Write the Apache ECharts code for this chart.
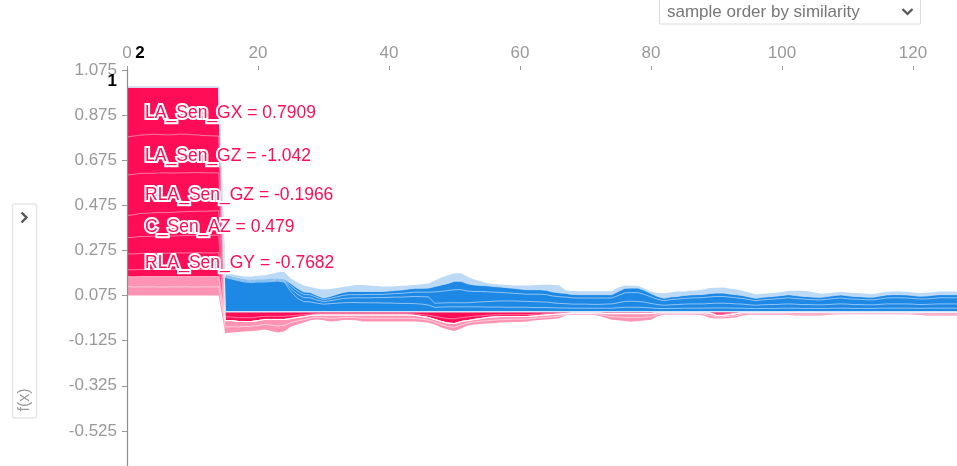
<!DOCTYPE html>
<html>
<head>
<meta charset="utf-8">
<script src="https://cdn.jsdelivr.net/npm/echarts@6/dist/echarts.min.js"></script>
<style>html,body{margin:0;padding:0;background:#fff;}#c{width:957px;height:466px;}</style>
</head>
<body>
<div id="c"></div>
<script>
// ---------- DATA ----------
const xTicks = [0, 20, 40, 60, 80, 100, 120];
const yTicks = [-0.525, -0.325, -0.125, 0.075, 0.275, 0.475, 0.675, 0.875, 1.075];
const hoverSample = 2;
const labelFeatures = ['LA_Sen_GX', 'LA_Sen_GZ', 'RLA_Sen_GZ', 'C_Sen_AZ', 'RLA_Sen_GY'];
const labelValues = ['0.7909', '-1.042', '-0.1966', '0.479', '-0.7682'];

// model output f(x) per sample
const sampleOutput = [
1,1,1,1,1,1,1,1,1,1,1,1,1,1,1,
.003,.003,.003,.003,.003,.003,.003,.003,.003,.003,
.003,.003,.003,.003,.003,.003,.003,.003,.003,.003,
.003,.003,.003,.003,.003,.003,.003,.003,.003,.003,
.003,.003,.003,.003,.003,.003,.003,.003,.003,.003,
.003,.003,.003,.003,.003,.003,.003,.003,.003,.003,
.003,.003,.003,.003,.003,.003,.003,.003,.003,.003,
.003,.003,.003,.003,.003,.003,.003,.003,.003,.003,
.003,.003,.003,.003,.003,.003,.003,.003,.003,.003,
.003,.003,.003,.003,.003,.003,.003,.003,.003,.003,
.003,.003,.003,.003,.003,.003,.003,.003,.003,.003,
.003,.003,.003,.003,.003,.003,.003,.003,.003,.003,
.003,.003,.003];

// positive (red) contributions
const redLAGX = [
.222,.218,.214,.212,.210,.211,.213,.212,.209,.210,.212,.214,.216,.217,.218,
.023,.023,.026,.026,.026,.023,.020,.020,.020,.020,
.018,.015,.013,.010,.008,.008,.008,.008,.008,.008,
.008,.008,.008,.008,.008,.008,.008,.008,.008,.010,
.013,.015,.020,.026,.030,.031,.026,.023,.020,.018,
.015,.014,.013,.013,.013,.013,.013,.011,.010,.008,
.007,.006,.005,.003,.003,.003,.003,.003,.005,.005,
.005,.005,.005,.005,.005,.005,.002,.002,.002,.002,
.002,.002,.002,.002,.004,.010,.010,.007,.005,.002,
.002,.002,.002,.002,.002,.002,.002,.002,.002,.002,
.002,.002,.002,.002,.002,.002,.002,.002,.002,.002,
.002,.002,.002,.002,.002,.002,.002,.002,.002,.002,
.002,.002,.002];
const redLAGZ = [
.168,.170,.169,.171,.173,.170,.168,.170,.172,.171,.168,.166,.165,.164,.163,
.016,.016,.017,.017,.017,.016,.014,.014,.014,.014,
.012,.010,.008,.006,.006,.006,.006,.006,.006,.006,
.006,.006,.006,.006,.006,.006,.006,.006,.006,.006,
.008,.010,.014,.017,.020,.021,.017,.016,.014,.012,
.010,.009,.008,.008,.008,.008,.008,.008,.006,.006,
.005,.004,.003,.002,.002,.002,.002,.002,.003,.003,
.003,.003,.003,.003,.003,.003,.002,.002,.002,.002,
.002,.002,.002,.002,.002,.006,.006,.005,.003,.001,
.001,.001,.001,.001,.001,.001,.001,.001,.001,.001,
.001,.001,.001,.001,.001,.001,.001,.001,.001,.001,
.001,.001,.001,.001,.001,.001,.001,.001,.001,.001,
.001,.001,.001];
const redRLAGZ = [
.180,.179,.178,.177,.175,.176,.176,.174,.173,.172,.172,.171,.170,.169,.168,
0,0,0,0,0,0,0,0,0,0, 0,0,0,0,0,0,0,0,0,0, 0,0,0,0,0,0,0,0,0,0,
0,0,0,0,0,0,0,0,0,0, 0,0,0,0,0,0,0,0,0,0, 0,0,0,0,0,0,0,0,0,0,
0,0,0,0,0,0,0,0,0,0, 0,0,0,0,0,0,0,0,0,0, 0,0,0,0,0,0,0,0,0,0,
0,0,0,0,0,0,0,0,0,0, 0,0,0,0,0,0,0,0,0,0, 0,0,0];
const redCAZ = [
.098,.100,.102,.103,.104,.104,.105,.105,.106,.106,.107,.107,.107,.108,.108,
0,0,0,0,0,0,0,0,0,0, 0,0,0,0,0,0,0,0,0,0, 0,0,0,0,0,0,0,0,0,0,
0,0,0,0,0,0,0,0,0,0, 0,0,0,0,0,0,0,0,0,0, 0,0,0,0,0,0,0,0,0,0,
0,0,0,0,0,0,0,0,0,0, 0,0,0,0,0,0,0,0,0,0, 0,0,0,0,0,0,0,0,0,0,
0,0,0,0,0,0,0,0,0,0, 0,0,0,0,0,0,0,0,0,0, 0,0,0];
const redOther1 = [
.072,.074,.075,.075,.076,.076,.075,.076,.076,.077,.077,.077,.078,.078,.078,
0,0,0,0,0,0,0,0,0,0, 0,0,0,0,0,0,0,0,0,0, 0,0,0,0,0,0,0,0,0,0,
0,0,0,0,0,0,0,0,0,0, 0,0,0,0,0,0,0,0,0,0, 0,0,0,0,0,0,0,0,0,0,
0,0,0,0,0,0,0,0,0,0, 0,0,0,0,0,0,0,0,0,0, 0,0,0,0,0,0,0,0,0,0,
0,0,0,0,0,0,0,0,0,0, 0,0,0,0,0,0,0,0,0,0, 0,0,0];
const redRLAGY = [
.070,.070,.071,.071,.071,.072,.072,.072,.073,.073,.073,.074,.073,.073,.074,
0,0,0,0,0,0,0,0,0,0, 0,0,0,0,0,0,0,0,0,0, 0,0,0,0,0,0,0,0,0,0,
0,0,0,0,0,0,0,0,0,0, 0,0,0,0,0,0,0,0,0,0, 0,0,0,0,0,0,0,0,0,0,
0,0,0,0,0,0,0,0,0,0, 0,0,0,0,0,0,0,0,0,0, 0,0,0,0,0,0,0,0,0,0,
0,0,0,0,0,0,0,0,0,0, 0,0,0,0,0,0,0,0,0,0, 0,0,0];
const redOther2 = [
.031,.031,.032,.032,.032,.032,.032,.032,.032,.032,.032,.032,.032,.032,.032,
0,0,0,0,0,0,0,0,0,0, 0,0,0,0,0,0,0,0,0,0, 0,0,0,0,0,0,0,0,0,0,
0,0,0,0,0,0,0,0,0,0, 0,0,0,0,0,0,0,0,0,0, 0,0,0,0,0,0,0,0,0,0,
0,0,0,0,0,0,0,0,0,0, 0,0,0,0,0,0,0,0,0,0, 0,0,0,0,0,0,0,0,0,0,
0,0,0,0,0,0,0,0,0,0, 0,0,0,0,0,0,0,0,0,0, 0,0,0];
const redPinkB = [
.044,.045,.045,.046,.045,.046,.046,.045,.046,.045,.046,.046,.045,.046,.045,
.028,.027,.024,.022,.021,.022,.022,.025,.029,.026,
.018,.016,.014,.011,.010,.012,.015,.014,.011,.011,
.012,.015,.015,.015,.015,.015,.015,.015,.015,.014,
.012,.012,.011,.014,.015,.017,.016,.011,.011,.012,
.014,.014,.014,.013,.012,.012,.011,.010,.010,.010,
.010,.010,.004,.004,.004,.004,.004,.007,.009,.014,
.015,.017,.018,.017,.016,.014,.008,.005,.005,.005,
.005,.005,.005,.006,.011,.007,.007,.008,.009,.007,
.005,.005,.005,.005,.005,.005,.006,.007,.007,.007,
.007,.007,.006,.005,.004,.004,.004,.004,.004,.004,
.004,.004,.004,.004,.004,.005,.006,.007,.007,.007,
.007,.007,.007];
const redPinkA = [
.040,.038,.039,.038,.039,.038,.038,.039,.038,.039,.038,.038,.039,.038,.039,
.028,.026,.023,.022,.021,.022,.022,.026,.029,.027,
.018,.015,.013,.011,.010,.012,.014,.013,.011,.011,
.012,.014,.014,.014,.014,.014,.014,.014,.014,.013,
.012,.012,.011,.013,.014,.016,.015,.011,.011,.012,
.013,.014,.013,.012,.012,.012,.011,.010,.010,.010,
.010,.009,.003,.004,.004,.004,.004,.006,.009,.013,
.014,.016,.018,.016,.015,.013,.008,.004,.004,.004,
.004,.004,.004,.006,.011,.007,.007,.007,.008,.006,
.005,.005,.005,.005,.005,.005,.005,.006,.006,.006,
.006,.006,.005,.004,.004,.004,.004,.004,.004,.004,
.004,.004,.004,.004,.004,.004,.005,.006,.006,.006,
.006,.006,.006];

// negative (blue) contributions, magnitudes
const blue1 = [
0,0,0,0,0,0,0,0,0,0,0,0,0,0,0,
.152,.145,.138,.132,.130,.132,.132,.134,.136,.132,
.090,.060,.045,.044,.038,.034,.036,.038,.040,.041,
.041,.040,.040,.040,.039,.039,.038,.037,.037,.036,
.034,.030,.020,.021,.022,.022,.022,.022,.022,.022,
.021,.021,.021,.020,.020,.020,.020,.019,.019,.019,
.018,.017,.017,.016,.016,.016,.016,.016,.016,.016,
.018,.020,.020,.020,.019,.017,.015,.014,.015,.015,
.016,.016,.016,.016,.017,.017,.017,.017,.016,.016,
.015,.014,.015,.015,.015,.016,.016,.016,.015,.015,
.015,.015,.015,.016,.016,.016,.015,.015,.015,.015,
.016,.016,.016,.016,.016,.016,.015,.016,.016,.016,
.016,.016,.016];
const blue2 = [
0,0,0,0,0,0,0,0,0,0,0,0,0,0,0,
.004,.004,.004,.004,.004,.004,.004,.004,.004,.004,
.014,.018,.018,.018,.014,.011,.013,.016,.019,.020,
.021,.022,.022,.023,.024,.025,.027,.028,.030,.032,
.033,.036,.018,.018,.018,.018,.018,.018,.020,.022,
.024,.026,.027,.028,.028,.027,.026,.026,.025,.024,
.022,.020,.019,.018,.018,.018,.017,.017,.018,.019,
.022,.026,.027,.026,.024,.020,.017,.015,.016,.017,
.018,.019,.019,.019,.020,.021,.021,.020,.019,.018,
.016,.015,.016,.017,.017,.018,.019,.018,.017,.017,
.016,.016,.017,.018,.019,.018,.017,.017,.016,.016,
.017,.019,.019,.019,.019,.018,.017,.017,.018,.019,
.019,.019,.019];
const blue3 = [
0,0,0,0,0,0,0,0,0,0,0,0,0,0,0,
.004,.004,.004,.004,.004,.004,.004,.004,.004,.004,
.012,.014,.014,.013,.011,.009,.010,.012,.014,.015,
.014,.014,.015,.014,.014,.015,.016,.017,.018,.019,
.020,.021,.050,.052,.054,.058,.058,.052,.048,.046,
.044,.040,.038,.036,.034,.033,.032,.033,.034,.033,
.030,.030,.029,.028,.027,.027,.028,.028,.027,.026,
.032,.038,.038,.039,.034,.029,.023,.020,.023,.024,
.025,.026,.027,.028,.029,.030,.030,.028,.027,.025,
.023,.020,.022,.023,.025,.025,.027,.025,.025,.023,
.022,.022,.024,.025,.026,.024,.024,.023,.022,.022,
.024,.026,.027,.027,.026,.025,.025,.024,.025,.027,
.027,.027,.027];
const blue4 = [
0,0,0,0,0,0,0,0,0,0,0,0,0,0,0,
.004,.004,.004,.004,.004,.004,.004,.004,.004,.004,
.010,.012,.011,.011,.009,.007,.009,.011,.013,.014,
.014,.014,.013,.013,.013,.013,.014,.015,.016,.017,
.017,.018,.024,.028,.032,.037,.037,.032,.029,.027,
.026,.025,.024,.023,.022,.021,.020,.020,.020,.019,
.018,.017,.016,.015,.015,.015,.015,.015,.015,.015,
.018,.020,.020,.020,.018,.015,.013,.011,.012,.012,
.013,.014,.014,.014,.015,.015,.015,.014,.014,.013,
.012,.011,.011,.012,.012,.013,.014,.013,.012,.012,
.012,.011,.012,.013,.014,.013,.012,.012,.012,.012,
.013,.014,.014,.014,.014,.013,.012,.013,.014,.014,
.014,.014,.014];
const blueLight = [
.003,.003,.003,.003,.003,.003,.003,.003,.003,.003,.003,.003,.003,.003,.003,
.011,.009,.011,.013,.015,.016,.018,.022,.027,.033,
.022,.027,.029,.024,.031,.038,.033,.029,.024,.024,
.029,.029,.027,.024,.022,.020,.018,.018,.016,.016,
.018,.021,.027,.033,.036,.036,.036,.031,.024,.018,
.012,.011,.011,.012,.013,.016,.019,.020,.022,.025,
.032,.033,.013,.015,.015,.015,.015,.015,.015,.015,
.018,.013,.010,.010,.008,.009,.015,.022,.020,.022,
.018,.018,.018,.022,.024,.024,.025,.024,.024,.020,
.020,.018,.016,.015,.015,.016,.017,.021,.024,.024,
.020,.016,.014,.014,.014,.014,.015,.015,.015,.014,
.014,.014,.014,.014,.014,.014,.014,.014,.014,.014,
.014,.014,.014];

// ---------- CHART ----------
const RED = '#ff0d57', PINK = '#ff93b4', BLUE = '#1e88e5', LIGHTBLUE = '#bcdaf6';
const FONT = '"Liberation Sans", Arial, sans-serif';

// red layers from the bottom (farthest from f) up to f
const redLayers = [
  {name: 'pinkA', data: redPinkA, color: PINK, line: 'rgba(255,255,255,0.55)'},
  {name: 'pinkB', data: redPinkB, color: PINK, line: 'rgba(255,255,255,0.55)'},
  {name: 'other2', data: redOther2, color: RED, line: 'rgba(255,255,255,0.45)'},
  {name: 'RLA_Sen_GY', data: redRLAGY, color: RED, line: 'rgba(255,255,255,0.45)'},
  {name: 'other1', data: redOther1, color: RED, line: 'rgba(255,255,255,0.45)'},
  {name: 'C_Sen_AZ', data: redCAZ, color: RED, line: 'rgba(255,255,255,0.45)'},
  {name: 'RLA_Sen_GZ', data: redRLAGZ, color: RED, line: 'rgba(255,255,255,0.45)'},
  {name: 'LA_Sen_GZ', data: redLAGZ, color: RED, line: 'rgba(255,255,255,0.45)'},
  {name: 'LA_Sen_GX', data: redLAGX, color: RED, line: null}
];
// blue layers from f upwards
const blueLayers = [
  {name: 'b1', data: blue1, color: BLUE, line: 'rgba(255,255,255,0.5)'},
  {name: 'b2', data: blue2, color: BLUE, line: 'rgba(255,255,255,0.5)'},
  {name: 'b3', data: blue3, color: BLUE, line: 'rgba(255,255,255,0.5)'},
  {name: 'b4', data: blue4, color: BLUE, line: 'rgba(210,230,250,0.7)'},
  {name: 'bLight', data: blueLight, color: LIGHTBLUE, line: null}
];

const pairs = arr => arr.map((v, i) => [i, v]);
// cumulative boundaries
const redBase = sampleOutput.map((f, i) => f - redLayers.reduce((s, l) => s + l.data[i], 0));
const redTops = [];
{ let cur = redBase.slice(); redLayers.forEach(l => { cur = cur.map((c, i) => c + l.data[i]); redTops.push(cur); }); }
const blueTops = [];
{ let cur = sampleOutput.slice(); blueLayers.forEach(l => { cur = cur.map((c, i) => c + l.data[i]); blueTops.push(cur); }); }

function fillSeries(name, data, color) {
  return {name, type: 'line', data: pairs(data), symbol: 'none', showSymbol: false,
    lineStyle: {width: 0, opacity: 0}, areaStyle: {color, opacity: 1, origin: 'start'},
    emphasis: {disabled: true}, silent: true, animation: false, z: 2};
}
function lineSeries(name, data, color, width) {
  return {name, type: 'line', data: pairs(data), symbol: 'none', showSymbol: false,
    lineStyle: {color, width}, emphasis: {disabled: true}, silent: true, animation: false, z: 3};
}

const series = [];
// fills painted outermost first, each one covering the part below it
for (let k = blueLayers.length - 1; k >= 0; k--) series.push(fillSeries(blueLayers[k].name, blueTops[k], blueLayers[k].color));
for (let k = redLayers.length - 1; k >= 0; k--) series.push(fillSeries(redLayers[k].name, redTops[k], redLayers[k].color));
series.push(fillSeries('below', redBase, '#ffffff'));
// separator lines between features
redLayers.forEach((l, k) => { if (l.line) series.push(lineSeries(l.name + '_edge', redTops[k], l.line, 1)); });
blueLayers.forEach((l, k) => { if (l.line) series.push(lineSeries(l.name + '_edge', blueTops[k], l.line, 1)); });
series.push(lineSeries('f(x)', sampleOutput, '#d3e6f8', 1.5));

const chart = echarts.init(document.getElementById('c'), null, {renderer: 'canvas'});
const option = {
  animation: false,
  backgroundColor: '#fff',
  textStyle: {fontFamily: FONT},
  grid: {left: 127, right: -87, top: 70, bottom: -10, containLabel: false, outerBoundsMode: 'none'},
  xAxis: {
    type: 'value', position: 'top', min: xTicks[0], max: 140, interval: xTicks[1] - xTicks[0],
    axisLine: {show: false, onZero: false},
    axisTick: {show: true, length: 4, lineStyle: {color: '#999'}},
    axisLabel: {color: '#999', fontSize: 17, margin: 8, fontFamily: FONT},
    splitLine: {show: false}
  },
  yAxis: {
    type: 'value', z: 10, min: yTicks[0] - 0.2, max: yTicks[yTicks.length - 1], interval: yTicks[1] - yTicks[0],
    axisLine: {show: true, onZero: false, lineStyle: {color: '#8f8f8f', width: 1.2}},
    axisTick: {show: true, length: 5, lineStyle: {color: '#999'}},
    axisLabel: {color: '#999', fontSize: 17, margin: 10, fontFamily: FONT, formatter: v => Number(v).toFixed(3)},
    splitLine: {show: false}
  },
  series
};
chart.setOption(option);

// ---------- overlays (hover labels + UI widgets) ----------
const px = (x, y) => chart.convertToPixel({gridIndex: 0}, [x, y]);
const g = [];
const hx = px(hoverSample, 0)[0];
const axisTop = px(0, yTicks[yTicks.length - 1])[1];
const axisLeft = px(0, 0)[0];

// feature labels at the hovered sample (middle of each band)
labelFeatures.forEach((name, k) => {
  const idx = redLayers.findIndex(l => l.name === name);
  const top = redTops[idx][hoverSample];
  const mid = top - redLayers[idx].data[hoverSample] / 2;
  const y = px(hoverSample, mid)[1] + 2;
  g.push({type: 'text', x: hx + 5, y: y, z: 100, silent: true,
    style: {text: name + ' = ' + labelValues[k], fill: RED, stroke: '#fff', lineWidth: 4,
      font: '17.5px ' + FONT, align: 'left', verticalAlign: 'middle', textAlign: 'left', textVerticalAlign: 'middle'}});
});
// hovered x and f(x)
g.push({type: 'text', x: hx, y: axisTop - 8, z: 100, silent: true,
  style: {text: String(hoverSample), fill: '#000', font: 'bold 17px ' + FONT, align: 'center', verticalAlign: 'bottom', textAlign: 'center', textVerticalAlign: 'bottom'}});
g.push({type: 'text', x: axisLeft - 10, y: px(hoverSample, sampleOutput[hoverSample])[1] - 6, z: 100, silent: true,
  style: {text: String(Math.round(sampleOutput[hoverSample])), fill: '#000', font: 'bold 17px ' + FONT, align: 'right', verticalAlign: 'middle', textAlign: 'right', textVerticalAlign: 'middle'}});

// dropdown
g.push({type: 'rect', shape: {x: 659.5, y: -5, width: 261, height: 29}, z: 100, silent: true,
  style: {fill: '#fff', stroke: '#dcdcdc', lineWidth: 1}});
g.push({type: 'text', x: 667, y: 12, z: 101, silent: true,
  style: {text: 'sample order by similarity', fill: '#777', font: '17px ' + FONT, align: 'left', verticalAlign: 'middle', textAlign: 'left', textVerticalAlign: 'middle'}});
g.push({type: 'polyline', shape: {points: [[902.5, 9], [907.5, 14], [912.5, 9]]}, z: 101, silent: true,
  style: {stroke: '#555', lineWidth: 2.2, fill: null}});

// left collapsed panel
g.push({type: 'rect', shape: {x: 12.5, y: 204, width: 24, height: 214, r: 2}, z: 100, silent: true,
  style: {fill: 'none', stroke: '#e6e6e6', lineWidth: 1.5}});
g.push({type: 'polyline', shape: {points: [[21.5, 212.5], [26.5, 217.5], [21.5, 222.5]]}, z: 101, silent: true,
  style: {stroke: '#555', lineWidth: 2.4, fill: null}});
g.push({type: 'text', x: 25, y: 400, rotation: Math.PI / 2, z: 101, silent: true,
  style: {text: 'f(x)', fill: '#999', font: '16px ' + FONT, align: 'center', verticalAlign: 'middle', textAlign: 'center', textVerticalAlign: 'middle'}});

chart.setOption({graphic: g});
</script>
</body>
</html>
